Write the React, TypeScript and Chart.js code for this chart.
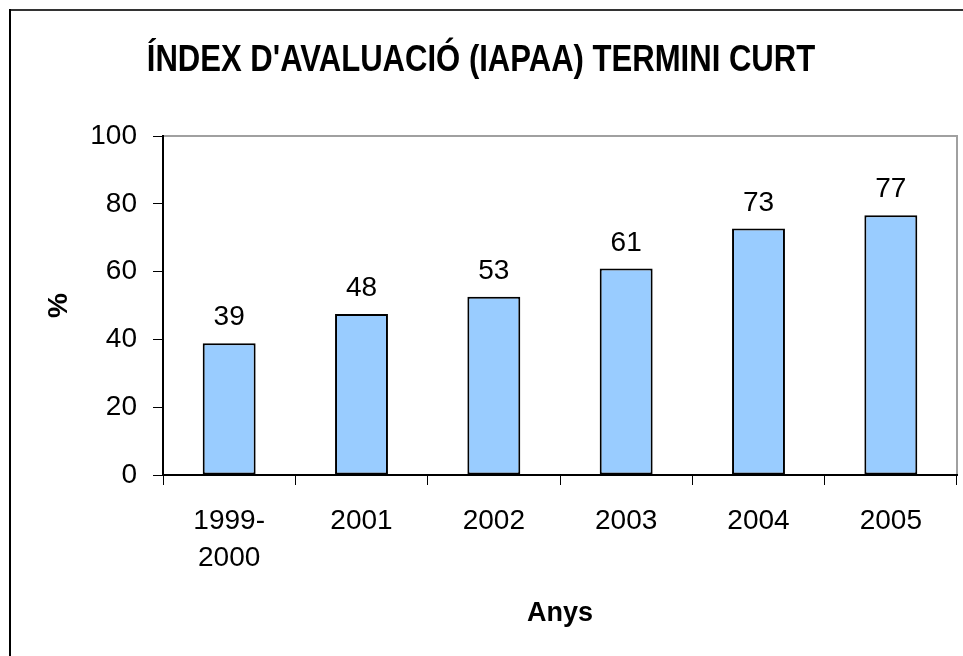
import React, { useEffect, useRef } from "react";
import { Chart, registerables } from "chart.js";

Chart.register(...registerables);

const categories: (string | string[])[] = [["1999-", "2000"], "2001", "2002", "2003", "2004", "2005"];
const values: number[] = [38.9, 47.5, 52.6, 60.9, 72.7, 76.6];
const yTicks: number[] = [0, 20, 40, 60, 80, 100];
const chartTitle = "ÍNDEX D'AVALUACIÓ (IAPAA) TERMINI CURT";
const xTitle = "Anys";
const yTitle = "%";

const FONT = "'Liberation Sans', Arial, Helvetica, sans-serif";

const framePlugin = {
  id: "frame",
  beforeDraw(chart: any) {
    const { ctx, chartArea } = chart;
    ctx.save();
    ctx.fillStyle = "#ffffff";
    ctx.fillRect(0, 0, chart.width, chart.height);
    ctx.strokeStyle = "#a0a0a0";
    ctx.lineWidth = 2;
    ctx.beginPath();
    ctx.moveTo(chartArea.left, chartArea.top);
    ctx.lineTo(chartArea.right, chartArea.top);
    ctx.lineTo(chartArea.right, chartArea.bottom);
    ctx.stroke();
    ctx.restore();
  },
  afterDraw(chart: any) {
    const { ctx } = chart;
    ctx.save();
    // condensed bold title
    ctx.font = `bold 36px ${FONT}`;
    ctx.fillStyle = "#000000";
    ctx.textAlign = "center";
    ctx.textBaseline = "alphabetic";
    ctx.translate(481, 71);
    ctx.scale(0.863, 1);
    ctx.fillText(chartTitle, 0, 0);
    ctx.restore();
    ctx.save();
    ctx.fillStyle = "#333333";
    ctx.fillRect(9, 9, chart.width - 9, 2);
    ctx.fillStyle = "#000000";
    ctx.fillRect(9, 9, 2, chart.height - 9);
    ctx.restore();
  },
};

const labelPlugin = {
  id: "barLabels",
  afterDatasetsDraw(chart: any) {
    const { ctx } = chart;
    const meta = chart.getDatasetMeta(0);
    ctx.save();
    ctx.font = `28px ${FONT}`;
    ctx.fillStyle = "#000000";
    ctx.textAlign = "center";
    ctx.textBaseline = "alphabetic";
    meta.data.forEach((bar: any, i: number) => {
      const v = chart.data.datasets[0].data[i] as number;
      ctx.fillText(Math.round(v).toString(), bar.x, bar.y - 18);
    });
    ctx.restore();
  },
};

export default function App() {
  const ref = useRef<HTMLCanvasElement>(null);
  useEffect(() => {
    if (!ref.current) return;
    const chart = new Chart(ref.current, {
      type: "bar",
      data: {
        labels: categories,
        datasets: [
          {
            data: values,
            backgroundColor: "#99ccff",
            borderColor: "#000000",
            borderWidth: 2,
            borderSkipped: false,
            barPercentage: 0.4,
            categoryPercentage: 1,
          },
        ],
      },
      options: {
        animation: false,
        responsive: true,
        maintainAspectRatio: false,
        layout: { padding: { left: 0, top: 136, right: 6, bottom: 0 } },
        plugins: {
          legend: { display: false },
          tooltip: { enabled: false },
          title: { display: false },
        },
        scales: {
          x: {
            grid: {
              display: true,
              drawOnChartArea: false,
              drawTicks: true,
              tickLength: 10,
              color: "#000000",
              lineWidth: 1,
              offset: true,
            },
            border: { display: true, color: "#000000", width: 2 },
            ticks: {
              color: "#000000",
              font: { family: FONT, size: 28, lineHeight: 1.35 },
              padding: 17,
              maxRotation: 0,
              autoSkip: false,
            },
            title: {
              display: true,
              text: xTitle,
              color: "#000000",
              font: { family: FONT, size: 27, weight: "bold", lineHeight: 1.2 },
              padding: { top: 0, bottom: 26 },
            },
            afterFit(scale: any) {
              scale.height = 181;
            },
          },
          y: {
            min: 0,
            max: 100,
            afterBuildTicks(scale: any) {
              scale.ticks = yTicks.map((v) => ({ value: v }));
            },
            grid: {
              display: true,
              drawOnChartArea: false,
              drawTicks: true,
              tickLength: 10,
              color: "#000000",
              lineWidth: 1,
            },
            border: { display: true, color: "#000000", width: 2 },
            ticks: {
              color: "#000000",
              font: { family: FONT, size: 28 },
              padding: 16,
            },
            title: {
              display: true,
              text: yTitle,
              color: "#000000",
              font: { family: FONT, size: 28, weight: "bold", lineHeight: 1.2 },
              padding: { top: 42, bottom: 0 },
            },
            afterFit(scale: any) {
              scale.width = 163;
            },
          },
        },
      },
      plugins: [framePlugin, labelPlugin],
    });
    return () => chart.destroy();
  }, []);
  return (
    <div style={{ position: "fixed", left: 0, top: 0, width: 963, height: 656 }}>
      <canvas ref={ref} />
    </div>
  );
}
